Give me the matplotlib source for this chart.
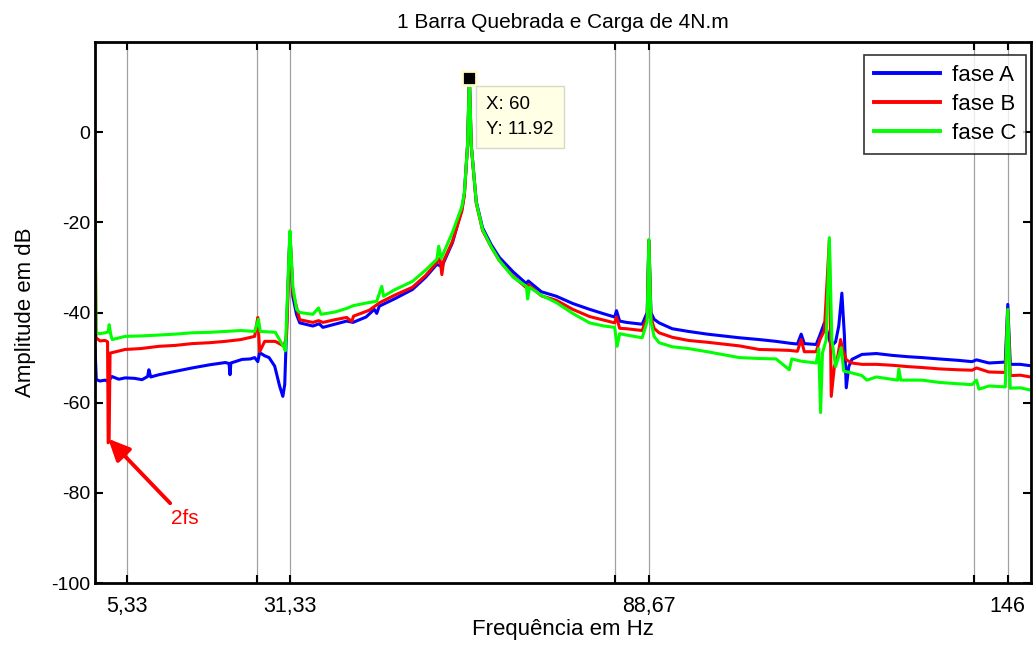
import matplotlib

matplotlib.use("Agg")

import matplotlib.pyplot as plt


OUTPUT_PATH = "out.png"

TITLE = "1 Barra Quebrada e Carga de 4N.m"
X_LABEL = "Frequência em Hz"
Y_LABEL = "Amplitude em dB"

X_TICKS = [5.33, 26.0, 31.33, 83.33, 88.67, 140.67, 146.0]
X_TICK_LABELS = ["5,33", "", "31,33", "", "88,67", "", "146"]
Y_TICKS = [-100, -80, -60, -40, -20, 0]

# fase A (azul)
FREQ_A = [
    0.2, 0.4, 1.0, 1.8, 2.3, 2.9, 4.0, 5.0, 6.5, 7.7, 8.6, 8.8, 9.1,
    10.4, 12.5, 15.7, 18.5, 21.0, 21.6, 21.76, 21.9, 23.7, 25.0, 25.7,
    26.2, 26.5, 27.3, 28.0, 28.9, 29.7, 30.2, 30.5, 31.0, 31.33, 31.6,
    31.8, 32.4, 32.9, 35.0, 36.0, 36.6, 38.5, 40.4, 41.4, 43.5, 44.8,
    45.2, 45.6, 48.0, 50.9, 53.0, 54.8, 55.6, 57.3, 58.8, 59.2, 59.7,
    60.0, 60.3, 61.1, 62.1, 63.5, 64.8, 67.0, 69.1, 69.4, 71.5, 73.9,
    76.5, 79.2, 81.5, 83.2, 83.5, 84.0, 85.1, 87.6, 88.4, 88.67, 89.0,
    89.5, 90.3, 92.4, 95.0, 98.0, 103.1, 106.3, 109.0, 111.1, 112.4,
    113.0, 113.5, 115.4, 116.0, 116.7, 117.0, 117.8, 118.5, 119.0,
    119.5, 119.9, 120.2, 120.6, 121.1, 122.7, 125.0, 127.5, 130.0,
    132.3, 135.0, 138.0, 140.3, 141.0, 143.0, 145.6, 146.0, 146.4,
    148.0, 149.6,
]
AMP_A = [
    -48.0, -54.9, -55.2, -55.0, -55.3, -54.2, -54.8, -54.5, -54.6,
    -54.9, -54.2, -52.7, -54.3, -53.8, -53.2, -52.3, -51.6, -51.1,
    -51.3, -53.8, -51.2, -50.4, -50.3, -50.0, -50.9, -48.9, -49.6,
    -50.0, -51.9, -56.4, -58.6, -56.0, -35.0, -22.5, -30.0, -36.5,
    -40.5, -42.3, -43.0, -42.5, -43.3, -42.6, -41.9, -42.2, -41.0,
    -39.3, -40.2, -38.6, -37.0, -34.9, -32.2, -29.3, -29.8, -24.5,
    -17.0, -13.5, -3.0, 11.92, -3.0, -15.4, -21.2, -25.0, -27.8, -31.0,
    -33.6, -33.0, -35.4, -36.4, -38.0, -39.3, -40.3, -41.0, -39.6,
    -41.9, -42.2, -42.6, -40.0, -24.0, -40.0, -41.5, -42.3, -43.6,
    -44.2, -44.8, -45.6, -46.0, -46.4, -46.8, -47.0, -44.8, -46.9,
    -47.1, -45.0, -42.3, -43.5, -47.5, -46.5, -43.0, -35.7, -45.0,
    -56.7, -52.0, -50.4, -49.3, -49.1, -49.5, -49.8, -50.0, -50.3,
    -50.6, -50.9, -50.5, -51.2, -51.0, -38.2, -51.5, -51.5, -51.8,
]

# fase B (vermelho)
FREQ_B = [
    0.2, 0.35, 1.0, 1.8, 2.2, 2.3, 2.45, 2.6, 2.94, 5.0, 7.5, 10.4,
    13.0, 15.7, 18.5, 21.0, 23.5, 25.7, 26.2, 26.5, 27.3, 29.0, 30.4,
    30.8, 31.33, 31.8, 32.9, 35.0, 35.9, 36.6, 38.5, 40.4, 41.2, 41.5,
    44.0, 45.7, 48.0, 50.9, 53.0, 54.8, 55.3, 55.6, 55.9, 57.3, 58.8,
    59.2, 59.7, 60.0, 60.3, 61.1, 62.1, 63.5, 64.8, 67.0, 69.1, 69.4,
    71.5, 73.9, 76.5, 79.2, 81.5, 83.2, 83.5, 84.0, 85.1, 87.6, 88.4,
    88.67, 89.0, 89.5, 90.3, 92.4, 95.0, 98.0, 103.1, 106.3, 109.0,
    111.1, 112.4, 113.0, 113.5, 115.4, 116.0, 116.7, 117.5, 117.8,
    118.3, 118.8, 119.3, 119.6, 120.2, 121.1, 122.7, 125.0, 127.5,
    130.0, 132.3, 135.0, 138.0, 140.3, 141.0, 143.0, 145.6, 146.0,
    146.4, 148.0, 149.6,
]
AMP_B = [
    -10.8, -45.6, -46.3, -46.2, -46.5, -68.9, -68.5, -49.0, -48.9,
    -48.2, -48.0, -47.5, -47.3, -46.9, -46.7, -46.4, -46.0, -45.3,
    -41.1, -48.7, -46.4, -46.4, -47.5, -45.0, -22.5, -35.6, -41.6,
    -42.2, -41.8, -42.2, -41.6, -41.1, -42.0, -40.8, -39.5, -37.8,
    -36.2, -34.4, -31.8, -28.9, -28.0, -31.6, -28.5, -24.2, -17.5,
    -14.0, -3.0, 11.92, -3.0, -15.8, -21.8, -25.5, -28.5, -32.0, -34.5,
    -33.8, -36.3, -37.3, -39.3, -40.9, -41.7, -42.3, -41.0, -43.5,
    -43.6, -44.0, -41.0, -24.0, -41.0, -43.5, -44.5, -45.5, -46.2,
    -46.6, -47.4, -48.2, -48.3, -48.4, -48.6, -46.0, -48.7, -48.7,
    -46.0, -44.0, -24.0, -58.6, -52.0, -50.0, -46.0, -48.0, -50.5,
    -51.2, -51.5, -51.5, -51.7, -52.0, -52.2, -52.5, -52.7, -52.8,
    -52.3, -53.2, -53.3, -39.5, -54.0, -53.9, -54.3,
]

# fase C (verde)
FREQ_C = [
    0.2, 0.35, 1.0, 1.8, 2.3, 2.46, 2.7, 2.94, 5.0, 7.5, 10.4, 13.0,
    15.7, 18.5, 21.0, 23.5, 25.7, 26.3, 26.6, 28.0, 29.0, 30.4, 30.6,
    31.0, 31.33, 31.6, 31.8, 32.4, 32.9, 35.0, 35.9, 36.3, 38.5, 40.4,
    41.4, 43.5, 45.2, 46.0, 46.3, 48.0, 50.9, 53.0, 54.8, 55.1, 55.5,
    57.3, 58.8, 59.2, 59.7, 60.0, 60.3, 61.1, 62.1, 63.5, 64.8, 67.0,
    69.1, 69.3, 69.6, 71.5, 73.9, 76.5, 79.2, 81.5, 83.2, 83.6, 84.0,
    85.1, 87.6, 88.4, 88.67, 89.0, 89.5, 90.3, 92.4, 95.0, 98.0, 103.1,
    106.3, 109.0, 111.1, 111.5, 113.0, 115.4, 115.8, 116.1, 116.4,
    117.0, 117.5, 117.9, 118.5, 119.4, 119.8, 121.1, 122.7, 123.5,
    125.0, 128.4, 128.6, 128.9, 130.0, 132.3, 135.0, 138.0, 140.3,
    141.0, 141.4, 143.0, 145.6, 146.0, 146.4, 148.0, 149.6,
]
AMP_C = [
    -16.4, -44.5, -44.7, -44.5, -44.3, -42.7, -44.8, -46.0, -45.3,
    -45.2, -45.0, -44.8, -44.5, -44.4, -44.2, -44.0, -44.2, -41.5,
    -44.2, -44.3, -44.4, -47.8, -48.5, -34.0, -21.9, -29.0, -34.2,
    -39.3, -40.0, -40.4, -39.0, -40.4, -39.9, -39.1, -38.5, -37.9,
    -37.5, -34.2, -36.4, -35.0, -33.1, -30.6, -28.2, -25.3, -28.0,
    -22.2, -16.5, -13.4, -3.0, 11.92, -3.0, -15.6, -21.6, -25.5, -28.5,
    -32.2, -34.2, -37.0, -34.4, -36.2, -37.8, -40.2, -42.3, -43.0,
    -43.3, -47.5, -44.7, -45.0, -45.6, -42.0, -23.8, -42.0, -45.3,
    -46.7, -47.6, -48.0, -48.7, -50.0, -50.2, -50.3, -52.7, -50.3,
    -50.8, -51.2, -48.0, -62.2, -49.0, -46.0, -23.4, -46.0, -52.0,
    -47.8, -53.0, -53.4, -54.0, -55.0, -54.3, -55.0, -52.5, -55.0,
    -55.0, -55.0, -55.5, -55.8, -56.0, -55.0, -57.0, -56.3, -56.5,
    -39.3, -56.8, -56.7, -57.2,
]

PEAK_FREQ = 60
PEAK_AMP = 11.92

# seta "2fs": ponta, cauda e texto (Hz, dB)
ARROW_TIP = (2.3, -68.0)
ARROW_TAIL = (12.2, -82.3)
ARROW_TEXT = (14.6, -85.6)

FONT = ["Liberation Sans", "DejaVu Sans"]


def plot_spectrum() -> None:
    plt.rcParams["font.family"] = FONT
    plt.rcParams["axes.unicode_minus"] = False

    figure = plt.figure(figsize=(10.33, 6.46), dpi=100)
    ax = figure.add_axes([0.092, 0.0975, 0.906, 0.8375])

    ax.plot(FREQ_A, AMP_A, color="#0000ff", linewidth=2.2, label="fase A")
    ax.plot(FREQ_B, AMP_B, color="#ff0000", linewidth=2.2, label="fase B")
    ax.plot(FREQ_C, AMP_C, color="#00ff00", linewidth=2.2, label="fase C")

    ax.set_xlim(0.2, 149.7)
    ax.set_ylim(-100, 20)
    ax.set_xticks(X_TICKS)
    ax.set_xticklabels(X_TICK_LABELS)
    ax.set_yticks(Y_TICKS)
    ax.grid(axis="x", color="#a0a0a0", linewidth=0.9)
    ax.tick_params(
        direction="in",
        top=True,
        right=True,
        length=6,
        width=1.5,
    )
    ax.tick_params(axis="x", labelsize=15.5, pad=9)
    ax.tick_params(axis="y", labelsize=14)
    for spine in ax.spines.values():
        spine.set_linewidth(2)

    ax.set_title(TITLE, fontsize=15, pad=10)
    ax.set_xlabel(X_LABEL, fontsize=16, labelpad=2)
    ax.set_ylabel(Y_LABEL, fontsize=16, labelpad=11)

    # datatip do pico de 60 Hz
    ax.plot(
        PEAK_FREQ,
        PEAK_AMP,
        marker="s",
        markersize=10,
        markerfacecolor="black",
        markeredgecolor="#fffbd0",
        markeredgewidth=2,
    )
    ax.annotate(
        f"X: {PEAK_FREQ}\nY: {PEAK_AMP}",
        xy=(PEAK_FREQ, PEAK_AMP),
        xytext=(17, -18),
        textcoords="offset pixels",
        ha="left",
        va="top",
        fontsize=13.5,
        linespacing=1.55,
        bbox=dict(
            boxstyle="square,pad=0.55",
            facecolor="#ffffe6",
            edgecolor="#d8d8c8",
        ),
    )

    # seta 2fs
    ax.annotate(
        "",
        xy=ARROW_TIP,
        xytext=ARROW_TAIL,
        arrowprops=dict(
            arrowstyle="-|>,head_length=1.3,head_width=0.6",
            color="red",
            linewidth=2.8,
            shrinkA=0,
            shrinkB=0,
        ),
    )
    ax.text(
        ARROW_TEXT[0],
        ARROW_TEXT[1],
        "2fs",
        color="red",
        fontsize=15,
        ha="center",
        va="center",
    )

    legend = ax.legend(
        loc="upper right",
        bbox_to_anchor=(0.9947, 0.976),
        borderaxespad=0,
        fontsize=16,
        frameon=True,
        fancybox=False,
        handlelength=3.0,
        handletextpad=0.5,
        borderpad=0.45,
        labelspacing=0.35,
    )
    legend.get_frame().set_edgecolor("black")
    legend.get_frame().set_linewidth(1.2)
    for line in legend.get_lines():
        line.set_linewidth(2.8)

    figure.savefig(OUTPUT_PATH, dpi=100)
    plt.close(figure)


def main() -> None:
    plot_spectrum()
    print(f"Saved figure to: {OUTPUT_PATH}")


if __name__ == "__main__":
    main()
